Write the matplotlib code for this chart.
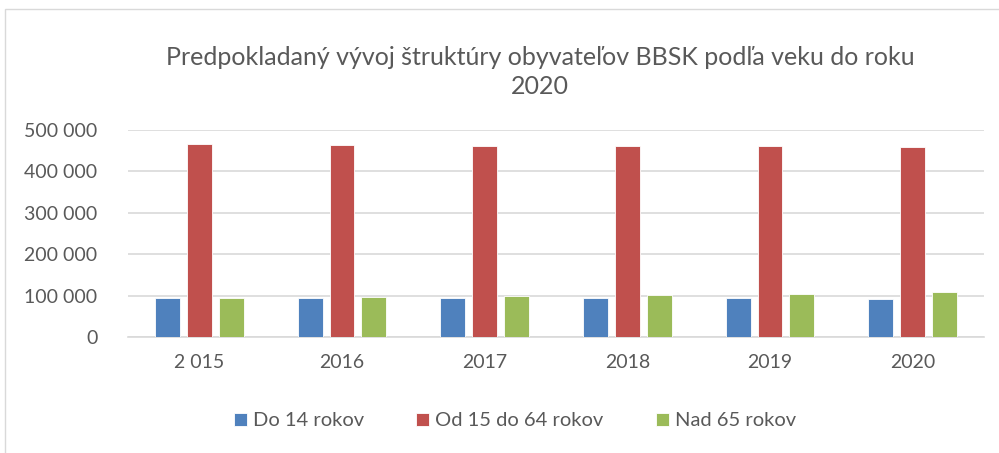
import matplotlib.pyplot as plt
import numpy as np
from matplotlib.patches import Rectangle
from matplotlib.ticker import FuncFormatter

plt.rcParams['font.family'] = ['Lato', 'DejaVu Sans']

years = ["2 015", "2016", "2017", "2018", "2019", "2020"]
do_14 = [94500, 94500, 94000, 94000, 94000, 92800]
od_15_64 = [465500, 463800, 462100, 461400, 460600, 458200]
nad_65 = [95000, 97300, 100000, 102500, 105000, 107500]

series = [
    ("Do 14 rokov", do_14, "#4F81BD"),
    ("Od 15 do 64 rokov", od_15_64, "#C0504D"),
    ("Nad 65 rokov", nad_65, "#9BBB59"),
]

W, H = 999, 453
fig = plt.figure(figsize=(W / 100, H / 100), dpi=100)
ax = fig.add_axes([128 / W, 1 - 337 / H, (984 - 128) / W, (337 - 130) / H])

x = np.arange(len(years))
width = 0.175
step = 0.224
for i, (label, vals, color) in enumerate(series):
    ax.bar(x + (i - 1) * step, vals, width, color=color, label=label,
           edgecolor="white", linewidth=0.6, zorder=3)

ax.set_xlim(-0.5, len(years) - 0.5)
ax.set_ylim(0, 500000)
ax.set_yticks(np.arange(0, 500001, 100000))
ax.yaxis.set_major_formatter(FuncFormatter(
    lambda v, p: "0" if v == 0 else f"{int(v):,}".replace(",", " ")))
ax.set_xticks(x)
ax.set_xticklabels(years)
ax.grid(axis="y", color="#D9D9D9", linewidth=1.2, zorder=0)
for s in ["top", "right", "left"]:
    ax.spines[s].set_visible(False)
ax.spines["bottom"].set_color("#D9D9D9")
ax.spines["bottom"].set_linewidth(1.2)
ax.tick_params(length=0, labelsize=14, colors="#595959", pad=12)
ax.tick_params(axis="y", pad=22)

fig.text(540 / W, 1 - 72 / H,
         "Predpokladaný vývoj štruktúry obyvateľov BBSK podľa veku do roku\n2020",
         ha="center", va="center", fontsize=18, color="#595959", linespacing=1.35)

fig.legend(loc="center", bbox_to_anchor=(515 / W, 1 - 421 / H), ncol=3,
           frameon=False, fontsize=14.5, labelcolor="#595959",
           handlelength=0.65, handleheight=0.65, handletextpad=0.3,
           columnspacing=2.6)

fig.patches.append(Rectangle((5 / W, -0.1), 1.2, 1 - 9 / H + 0.1,
                             transform=fig.transFigure, fill=False,
                             edgecolor="#D9D9D9", linewidth=1))

fig.savefig("out.png", dpi=100)
